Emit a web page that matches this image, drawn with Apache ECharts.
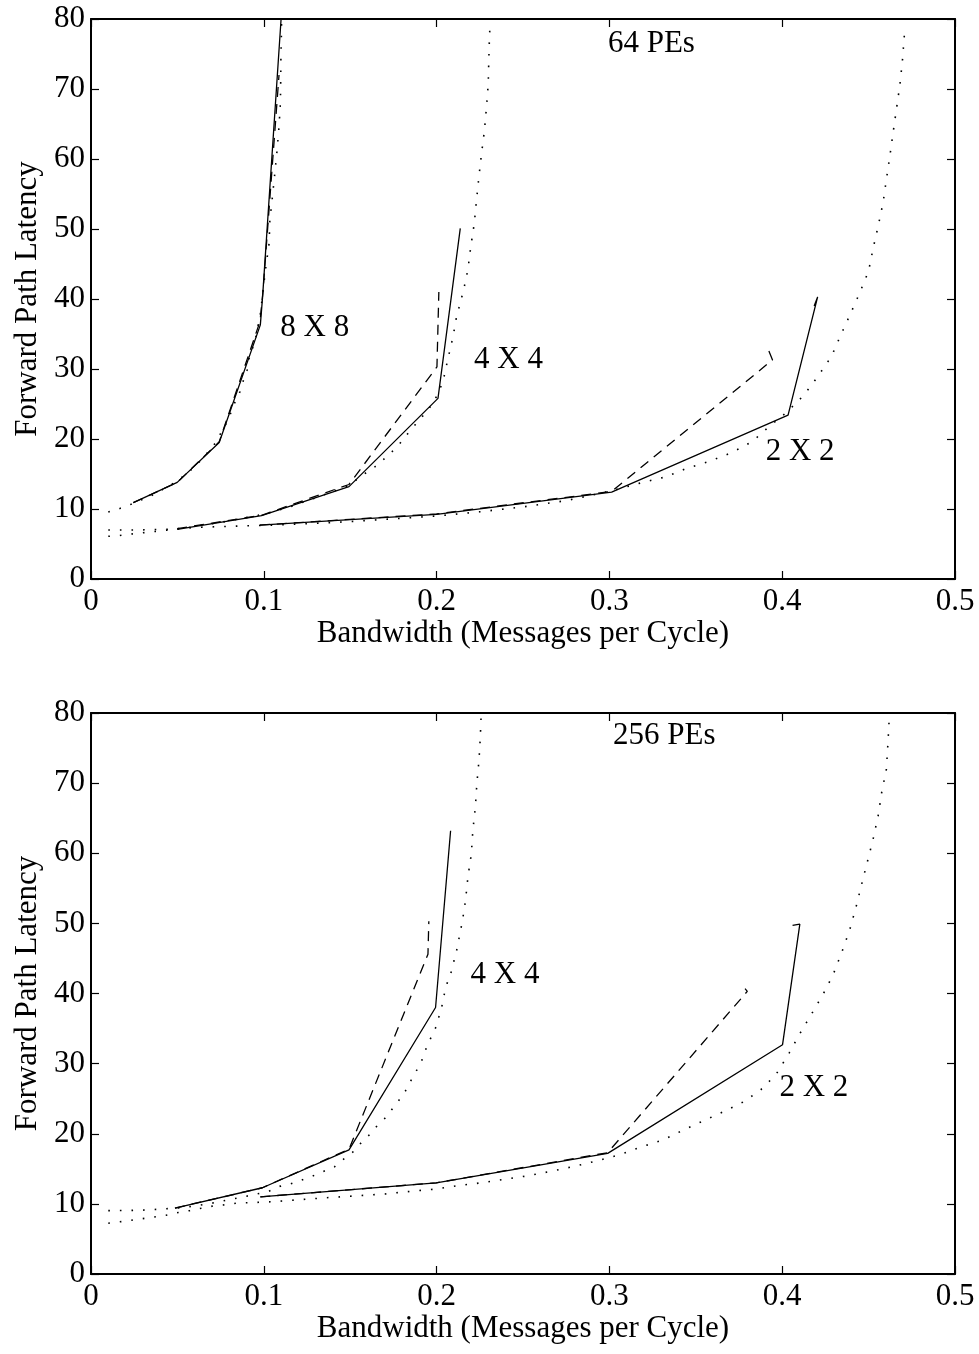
<!DOCTYPE html>
<html>
<head>
<meta charset="utf-8">
<script src="https://cdn.jsdelivr.net/npm/echarts@6/dist/echarts.min.js"></script>
<style>
html,body{margin:0;padding:0;background:#fff;}
#chart{width:979px;height:1354px;}
</style>
</head>
<body>
<div id="chart"></div>
<script>
// ---------- axis ticks ----------
const xTickValues = [0, 0.1, 0.2, 0.3, 0.4, 0.5];
const xTickLabels = ['0', '0.1', '0.2', '0.3', '0.4', '0.5'];
const yTickValues = [0, 10, 20, 30, 40, 50, 60, 70, 80];
const yTickLabels = ['0', '10', '20', '30', '40', '50', '60', '70', '80'];

// ---------- 64 PEs (top panel) ----------
const pe64_8x8_sim = [[0.0245,10.9],[0.0499,13.8],[0.0742,19.5],[0.098,36.3],[0.0993,40.3],[0.1100,80]];
const pe64_8x8_sim2 = [[0.0245,10.9],[0.0499,13.8],[0.0742,19.6],[0.0978,36.8],[0.0995,41.0],[0.1088,72]];
const pe64_8x8_model = [[0.01,9.57],[0.0163,10.04],[0.0225,10.6],[0.035,11.9],[0.0466,13.5],[0.0524,14.5],[0.06,16.0],[0.0669,17.9],[0.0713,19.2],[0.0746,20.6],[0.078,22.1],[0.0807,23.6],[0.0832,25.2],[0.0861,26.7],[0.0881,28.3],[0.0904,29.9],[0.0915,31.5],[0.0938,33.2],[0.0958,34.9],[0.0967,36.3],[0.0981,38],[0.0997,41.5],[0.1012,44.6],[0.1031,48],[0.1035,51.3],[0.105,54.6],[0.1064,58],[0.1077,61.3],[0.1088,64.6],[0.1096,68],[0.1098,71.3],[0.1099,74.6],[0.1102,77.9],[0.1103,80]];

const pe64_4x4_sim = [[0.0499,7.1],[0.0987,9.04],[0.1493,13.2],[0.2008,25.8],[0.2137,50.1]];
const pe64_4x4_sim2 = [[0.0499,7.2],[0.0987,9.1],[0.1493,13.5],[0.2002,30.3],[0.2013,41.0]];
const pe64_4x4_model = [[0.01,6.1],[0.0163,6.2],[0.0225,6.4],[0.03,6.6],[0.0375,6.8],[0.045,7.0],[0.055,7.3],[0.065,7.7],[0.08,8.3],[0.0967,9.1],[0.1035,9.5],[0.115,10.3],[0.13,11.6],[0.142,12.7],[0.1493,13.4],[0.1593,15.2],[0.1642,16.0],[0.1699,17.2],[0.1751,18.4],[0.1796,19.6],[0.1834,20.8],[0.1882,22.2],[0.1935,23.7],[0.1979,25.1],[0.2008,26.5],[0.2037,28.2],[0.2066,31.5],[0.2095,34.6],[0.2117,37.7],[0.2137,39.4],[0.2153,41],[0.2168,42.6],[0.2181,44.2],[0.2198,47.5],[0.2218,50.8],[0.2231,54.1],[0.2245,57.5],[0.226,60.8],[0.2277,64.1],[0.2289,67.5],[0.2299,70.8],[0.2302,74.1],[0.2306,77.5],[0.231,79.5]];

const pe64_2x2_sim = [[0.0977,7.7],[0.2,9.24],[0.3013,12.4],[0.4034,23.4],[0.4205,40.3],[0.4185,39.0]];
const pe64_2x2_sim2 = [[0.0977,7.7],[0.2,9.3],[0.3013,12.5],[0.3944,31.3],[0.3919,32.8]];
const pe64_2x2_model = [[0.01,7.0],[0.026,7.0],[0.0434,7.1],[0.064,7.4],[0.0909,7.6],[0.1,7.65],[0.125,7.9],[0.15,8.2],[0.175,8.6],[0.2,9.0],[0.225,9.6],[0.25,10.3],[0.275,11.2],[0.2923,12.1],[0.3058,12.9],[0.3193,13.8],[0.3328,14.6],[0.3447,15.8],[0.3578,16.8],[0.3703,18.0],[0.3825,19.6],[0.3925,21.8],[0.403,23.9],[0.4127,26.3],[0.4208,29],[0.4285,31.8],[0.434,34.9],[0.4397,38],[0.4449,40.9],[0.45,44],[0.4526,47.2],[0.4557,50.6],[0.4584,53.8],[0.4603,57.1],[0.4623,60.4],[0.4642,63.8],[0.4661,67.1],[0.468,70.4],[0.4695,73.8],[0.4705,77.1],[0.4711,78.9]];

// ---------- 256 PEs (bottom panel) ----------
const pe256_4x4_sim = [[0.0486,9.4],[0.0992,12.3],[0.1493,17.7],[0.1994,38.0],[0.2081,63.2]];
const pe256_4x4_sim2 = [[0.0486,9.4],[0.0992,12.3],[0.1493,17.8],[0.1950,45.6],[0.1955,50.3]];
const pe256_4x4_model = [[0.01,9.04],[0.02,9.05],[0.03,9.1],[0.0434,9.3],[0.05,9.4],[0.06,9.7],[0.07,10.1],[0.08,10.6],[0.09,11.1],[0.1025,11.76],[0.1092,12.5],[0.115,12.8],[0.1218,13.4],[0.1276,13.9],[0.1343,14.6],[0.141,15.3],[0.1458,16.3],[0.1516,17.4],[0.1555,18.5],[0.1613,19.9],[0.1651,21],[0.1709,22.4],[0.1748,23.7],[0.1786,24.9],[0.1825,26.3],[0.1854,27.7],[0.1886,29.1],[0.1917,30.6],[0.194,32.2],[0.1969,33.8],[0.1998,35.3],[0.2017,37],[0.2036,38.7],[0.2046,40.1],[0.2065,41.8],[0.2091,43.5],[0.2104,45.1],[0.2123,46.8],[0.2133,48.4],[0.2148,50.1],[0.2168,53.4],[0.2181,56.6],[0.2201,59.9],[0.221,63.3],[0.2224,66.5],[0.2233,69.9],[0.2245,73.2],[0.2253,76.5],[0.2258,79.9]];

const pe256_2x2_sim = [[0.098,11.0],[0.1998,13.0],[0.299,17.2],[0.4002,32.7],[0.4102,49.9],[0.406,49.7]];
const pe256_2x2_sim2 = [[0.098,11.0],[0.1998,13.0],[0.299,17.3],[0.3798,40.3],[0.3785,40.7]];
const pe256_2x2_model = [[0.01,7.24],[0.02,7.55],[0.03,7.9],[0.0434,8.38],[0.0505,8.76],[0.0572,9.04],[0.064,9.38],[0.0707,9.7],[0.0775,9.86],[0.0842,10.1],[0.1044,10.3],[0.1375,10.9],[0.1709,11.43],[0.1854,11.8],[0.1988,12.1],[0.2123,12.6],[0.2258,13.0],[0.2393,13.5],[0.2528,14.0],[0.2653,14.6],[0.2788,15.3],[0.2923,16.1],[0.3058,17.0],[0.3183,18.1],[0.3309,19.1],[0.3434,20.6],[0.3549,21.9],[0.3665,23.2],[0.378,24.6],[0.3877,26.3],[0.3963,28.4],[0.404,31.5],[0.4098,34.1],[0.4156,36.5],[0.4237,39.9],[0.4295,42.7],[0.4345,45.9],[0.4391,49.1],[0.4426,52.2],[0.446,55.6],[0.4493,58.8],[0.4526,62],[0.4555,65.3],[0.4576,68.7],[0.4603,72],[0.4611,75.3],[0.4618,78.6]];

// ---------- text annotations (anchored in data coordinates) ----------
const topNotes = [['64 PEs',0.3243,76.5],['8 X 8',0.1295,35.9],['4 X 4',0.2416,31.3],['2 X 2',0.4104,18.2]];
const bottomNotes = [['256 PEs',0.3318,76.8],['4 X 4',0.2396,42.6],['2 X 2',0.4183,26.6]];

const xAxisTitle = 'Bandwidth (Messages per Cycle)';
const yAxisTitle = 'Forward Path Latency';

// ---------- styling ----------
const FONT = 'Liberation Serif';
const FS = 31;
const solidStyle = {color:'#000', width:1.3, type:'solid'};
const dashStyle = {color:'#000', width:1.3, type:[10,7]};
const dotStyle = {color:'#000', width:1.6, type:[1.6,10]};

function xFmt(v){ const i = Math.round(v*10); return xTickLabels[i] !== undefined ? xTickLabels[i] : ''; }
function yFmt(v){ const i = Math.round(v/10); return yTickLabels[i] !== undefined ? yTickLabels[i] : ''; }

function makeX(grid, main){
  return {
    gridIndex: grid, type:'value', min: xTickValues[0], max: xTickValues[xTickValues.length-1], interval: 0.1,
    position: main ? 'bottom' : 'top',
    axisLine:{show:true, onZero:false, lineStyle:{color:'#000', width:2}},
    axisTick:{show:true, inside:true, length:8, lineStyle:{color:'#000', width:1.2}},
    axisLabel: main ? {show:true, formatter:xFmt, color:'#000', fontFamily:FONT, fontSize:FS, margin:7} : {show:false},
    splitLine:{show:false},
    name: main ? xAxisTitle : '', nameLocation:'middle', nameGap:31,
    nameTextStyle:{color:'#000', fontFamily:FONT, fontSize:FS}
  };
}
function makeY(grid, main){
  return {
    gridIndex: grid, type:'value', min: yTickValues[0], max: yTickValues[yTickValues.length-1], interval: 10,
    position: main ? 'left' : 'right',
    axisLine:{show:true, onZero:false, lineStyle:{color:'#000', width:2}},
    axisTick:{show:true, inside:true, length:8, lineStyle:{color:'#000', width:1.2}},
    axisLabel: main ? {show:true, formatter:yFmt, color:'#000', fontFamily:FONT, fontSize:FS, margin:6} : {show:false},
    splitLine:{show:false},
    name: main ? yAxisTitle : '', nameLocation:'middle', nameGap:48, nameRotate:90,
    nameTextStyle:{color:'#000', fontFamily:FONT, fontSize:FS}
  };
}

function line(data, style, xi, yi, z){
  return {type:'line', data:data, xAxisIndex:xi, yAxisIndex:yi, symbol:'none', showSymbol:false,
          lineStyle:style, clip:true, silent:true, z:z||2};
}
function notes(list, xi, yi){
  return {type:'scatter', xAxisIndex:xi, yAxisIndex:yi, symbolSize:0, silent:true, z:5,
    itemStyle:{opacity:1, color:'#000'},
    data: list.map(n => ({name:n[0], value:[n[1], n[2]]})),
    label:{show:true, position:'inside', formatter:'{b}', color:'#000', opacity:1,
           textBorderWidth:0, fontFamily:FONT, fontSize:FS}};
}

const chart = echarts.init(document.getElementById('chart'), null, {renderer:'canvas'});
chart.setOption({
  animation:false,
  backgroundColor:'#fff',
  grid:[
    {left:91, top:19, width:864, height:560},
    {left:91, top:713, width:864, height:561}
  ],
  xAxis:[makeX(0,true), makeX(0,false), makeX(1,true), makeX(1,false)],
  yAxis:[makeY(0,true), makeY(0,false), makeY(1,true), makeY(1,false)],
  series:[
    line(pe64_8x8_model, dotStyle, 0, 0),
    line(pe64_4x4_model, dotStyle, 0, 0),
    line(pe64_2x2_model, dotStyle, 0, 0),
    line(pe64_8x8_sim2, dashStyle, 0, 0),
    line(pe64_4x4_sim2, dashStyle, 0, 0),
    line(pe64_2x2_sim2, dashStyle, 0, 0),
    line(pe64_8x8_sim, solidStyle, 0, 0, 3),
    line(pe64_4x4_sim, solidStyle, 0, 0, 3),
    line(pe64_2x2_sim, solidStyle, 0, 0, 3),
    notes(topNotes, 0, 0),
    line(pe256_4x4_model, dotStyle, 2, 2),
    line(pe256_2x2_model, dotStyle, 2, 2),
    line(pe256_4x4_sim2, dashStyle, 2, 2),
    line(pe256_2x2_sim2, dashStyle, 2, 2),
    line(pe256_4x4_sim, solidStyle, 2, 2, 3),
    line(pe256_2x2_sim, solidStyle, 2, 2, 3),
    notes(bottomNotes, 2, 2)
  ]
});
</script>
</body>
</html>
